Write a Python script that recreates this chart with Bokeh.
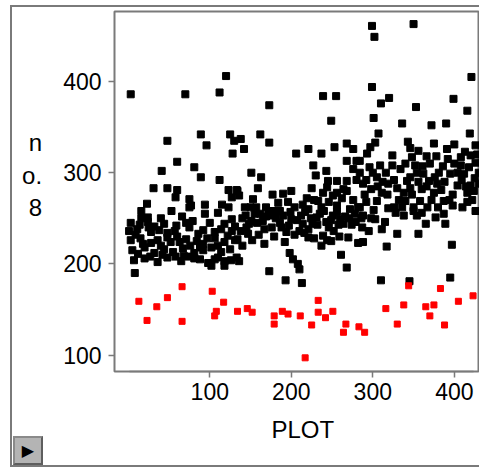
from bokeh.plotting import figure
from bokeh.models import FixedTicker, Range1d, InlineStyleSheet, Title
from bokeh.embed import file_html
from bokeh.resources import INLINE

# ---- data (PLOT vs "no. 8") ----
black_points = [
    (120,406),(3,386),(70,386),(112,388),(89,342),(125,342),(130,335),(96,330),(48,335),(128,321),
    (60,312),(81,306),(41,302),(89,295),(112,292),(31,283),(48,283),(60,281),(123,281),(133,281),
    (58,273),(75,271),(127,273),(23,266),(94,265),(115,265),(16,258),(53,258),(75,262),(94,255),
    (110,256),(123,262),(24,251),(79,247),(127,249),(77,264),(131,241),
    (3,245),(14,243),(24,246),(32,241),(44,244),(59,242),(71,245),(75,240),
    (1,236),(11,238),(28,235),(38,237),(48,234),(57,236),(86,233),(92,237),(106,235),(114,238),(127,236),
    (3,226),(15,228),(28,223),(36,226),(48,229),(63,224),(71,227),(84,225),(92,222),(106,228),(118,224),(131,226),
    (5,215),(20,218),(32,212),(44,216),(55,213),(67,217),(81,212),(92,215),(102,218),(114,213),(125,216),
    (7,204),(20,206),(36,202),(48,207),(65,203),(81,206),(98,201),(106,205),(118,203),(133,207),
    (102,198),(118,198),(8,190),
    (9,232),(18,222),(25,240),(40,220),(52,224),(60,230),(68,209),(76,220),(88,218),(97,228),(110,220),
    (122,231),(12,211),(27,208),(42,210),(58,208),(74,208),(88,205),(110,207),(126,204),(16,250),
    (40,250),(66,252),(100,245),(118,244),
    (239,384),(255,384),(173,374),(249,357),(162,342),(138,337),(173,333),(142,326),(206,321),(221,326),
    (237,321),(253,328),(268,332),(276,326),(268,313),(280,313),(227,308),(230,297),(243,302),(276,304),
    (151,300),(163,295),(245,291),(256,291),(268,291),(280,292),(159,283),(225,283),(239,278),(256,278),
    (264,282),(134,280),(136,275),(177,276),(190,277),(200,280),(219,272),(233,269),(251,275),(153,271),
    (157,262),(169,262),(184,267),(204,262),(221,260),(237,262),(256,264),(272,260),(282,262),(144,253),
    (173,253),(190,253),(212,253),(235,255),(251,253),(278,255),
    (140,250),(151,247),(169,252),(186,245),(200,249),(214,244),(231,251),(243,246),(260,249),(274,243),
    (138,236),(147,233),(167,238),(179,230),(194,235),(204,232),(221,238),(239,231),(252,236),(270,229),
    (134,227),(167,222),(192,224),(221,229),(237,220),(249,225),(282,223),(198,212),(202,205),(208,200),
    (210,194),(136,203),(173,192),(193,182),(213,179),(261,210),(268,196),
    (145,240),(158,245),(176,240),(186,258),(197,242),(210,236),(226,244),(246,240),(258,243),(266,252),
    (150,262),(162,255),(180,258),(196,268),(214,265),(228,270),(246,268),(262,272),(276,270),(286,250),
    (244,284),(268,280),(290,276),
    (143,262),(148,244),(155,255),(165,247),(172,258),(181,250),(188,240),(199,257),(207,248),(217,257),
    (224,250),(232,243),(240,258),(249,248),(256,257),(264,244),(271,250),(279,246),(287,240),(216,234),
    (228,228),(244,226),(259,230),(140,220),(152,226),(160,232),
    (299,461),(350,463),(302,449),(421,405),(299,394),(320,382),(310,376),(399,381),(353,372),(416,368),
    (301,360),(336,354),(372,352),(390,354),(307,343),(419,343),(303,333),(343,334),(375,332),(426,330),
    (356,324),(346,327),(400,331),(297,328),(293,321),(324,319),(348,317),(391,326),(408,317),(420,319),
    (284,313),(426,311),(309,308),(324,308),(334,304),(361,307),(400,310),(408,308),(284,300),(346,295),
    (362,299),(381,300),(395,299),(412,299),(288,288),(305,295),(319,288),(342,291),(369,291),(379,288),
    (404,286),(420,286),(311,278),(338,278),(375,278),(387,269),(416,278),(305,269),(340,269),(358,269),
    (416,268),(284,262),(326,262),(350,262),
    (301,259),(319,261),(328,256),(350,258),(367,262),(377,251),(387,255),(288,253),(303,249),(315,246),
    (338,253),(354,253),(365,244),(389,244),(426,258),(295,236),(311,238),(330,233),(356,233),(288,224),
    (317,219),(397,221),(310,182),(345,181),(395,185),
    (292,268),(298,282),(312,290),(330,283),(346,283),(360,282),(372,270),(384,281),(398,276),(409,292),
    (425,294),(296,306),(316,300),(340,310),(354,300),(370,310),(386,307),(418,306),(430,300),(298,250),
    (336,262),(360,256),(380,262),(398,264),(410,262),(422,270),
    (300,300),(306,285),(318,276),(326,292),(332,270),(348,276),(356,290),(366,285),(376,295),(388,290),
    (394,270),(404,300),(414,285),(424,280),(428,320),(413,323),(430,288),(392,315),(378,318),(366,318),
    (352,308),(292,292),
]
red_points = [
    (66,175),(103,170),(13,159),(48,163),(117,158),(35,153),(108,148),(134,148),(106,143),(23,138),(66,137),
    (233,160),(146,151),(152,147),(179,143),(179,134),(189,148),(196,145),(211,143),(233,147),(251,148),
    (242,141),(225,133),(267,134),(264,125),(283,131),(217,97),
    (344,176),(383,173),(423,165),(405,159),(316,151),(338,155),(365,153),(375,155),(370,143),(330,134),
    (388,133),(290,125),
]
y_ticks = [100, 200, 300, 400]
x_ticks = [100, 200, 300, 400]
x_label = "PLOT"
y_label = "n\no.\n8\n"

bx = [p[0] for p in black_points]
by = [p[1] for p in black_points]
rx = [p[0] for p in red_points]
ry = [p[1] for p in red_points]

FONT = "Liberation Sans"
GRAY = "#7a7a7a"

css = """
:host { position: relative; }
:host::before {
  content: ""; position: absolute; left: 10px; top: 5px; width: 475px; height: 462px;
  box-sizing: border-box; border: 2px solid #7a7a7a; border-right: none;
  pointer-events: none; z-index: 5;
}
:host::after {
  content: "\\25B6"; position: absolute; left: 13px; top: 436px; width: 30px; height: 29px;
  box-sizing: border-box; background: #b4b4b4; border: 2px solid #8a8a8a;
  border-right-color: #5e5e5e; border-bottom-color: #5e5e5e;
  font: 16px "DejaVu Sans"; line-height: 25px; text-align: center; color: black;
  pointer-events: none; z-index: 6;
}
"""

p = figure(width=479, height=468, output_backend="svg", toolbar_location=None,
           x_range=Range1d(-16.9, 430.9), y_range=Range1d(82, 476.8),
           min_border_left=114, min_border_right=0, min_border_top=11, min_border_bottom=97)
p.stylesheets = [InlineStyleSheet(css=css)]
p.xgrid.visible = False
p.ygrid.visible = False
p.outline_line_color = GRAY
p.outline_line_width = 2
p.background_fill_color = "white"
p.border_fill_color = "white"

p.scatter(bx, by, marker="square", size=7, color="black")
p.scatter(rx, ry, marker="square", size=6, color="red")

for ax in (p.xaxis[0], p.yaxis[0]):
    ax.major_label_text_font = FONT
    ax.major_label_text_font_size = "23px"
    ax.major_label_text_color = "black"
    ax.major_tick_line_color = GRAY
    ax.major_tick_line_width = 1.5
    ax.major_tick_out = 6
    ax.major_tick_in = 0
    ax.minor_tick_line_color = None
    ax.axis_line_color = GRAY
    ax.axis_line_width = 1.5

p.xaxis.ticker = FixedTicker(ticks=x_ticks)
p.yaxis.ticker = FixedTicker(ticks=y_ticks)
p.xaxis.bounds = (1, 424)
p.yaxis.axis_line_color = None
p.xaxis.major_label_standoff = 5
p.yaxis.major_label_standoff = 7

p.yaxis.axis_label = y_label
p.yaxis.axis_label_orientation = "horizontal"
p.yaxis.axis_label_text_font = FONT
p.yaxis.axis_label_text_font_size = "24px"
p.yaxis.axis_label_text_font_style = "normal"
p.yaxis.axis_label_text_color = "black"
p.yaxis.axis_label_standoff = 18

p.add_layout(Title(text=x_label, align="left", offset=157, standoff=23,
                   text_font=FONT, text_font_size="24px", text_font_style="normal",
                   text_color="black"), "below")

open("out.html", "w").write(file_html(p, INLINE))
